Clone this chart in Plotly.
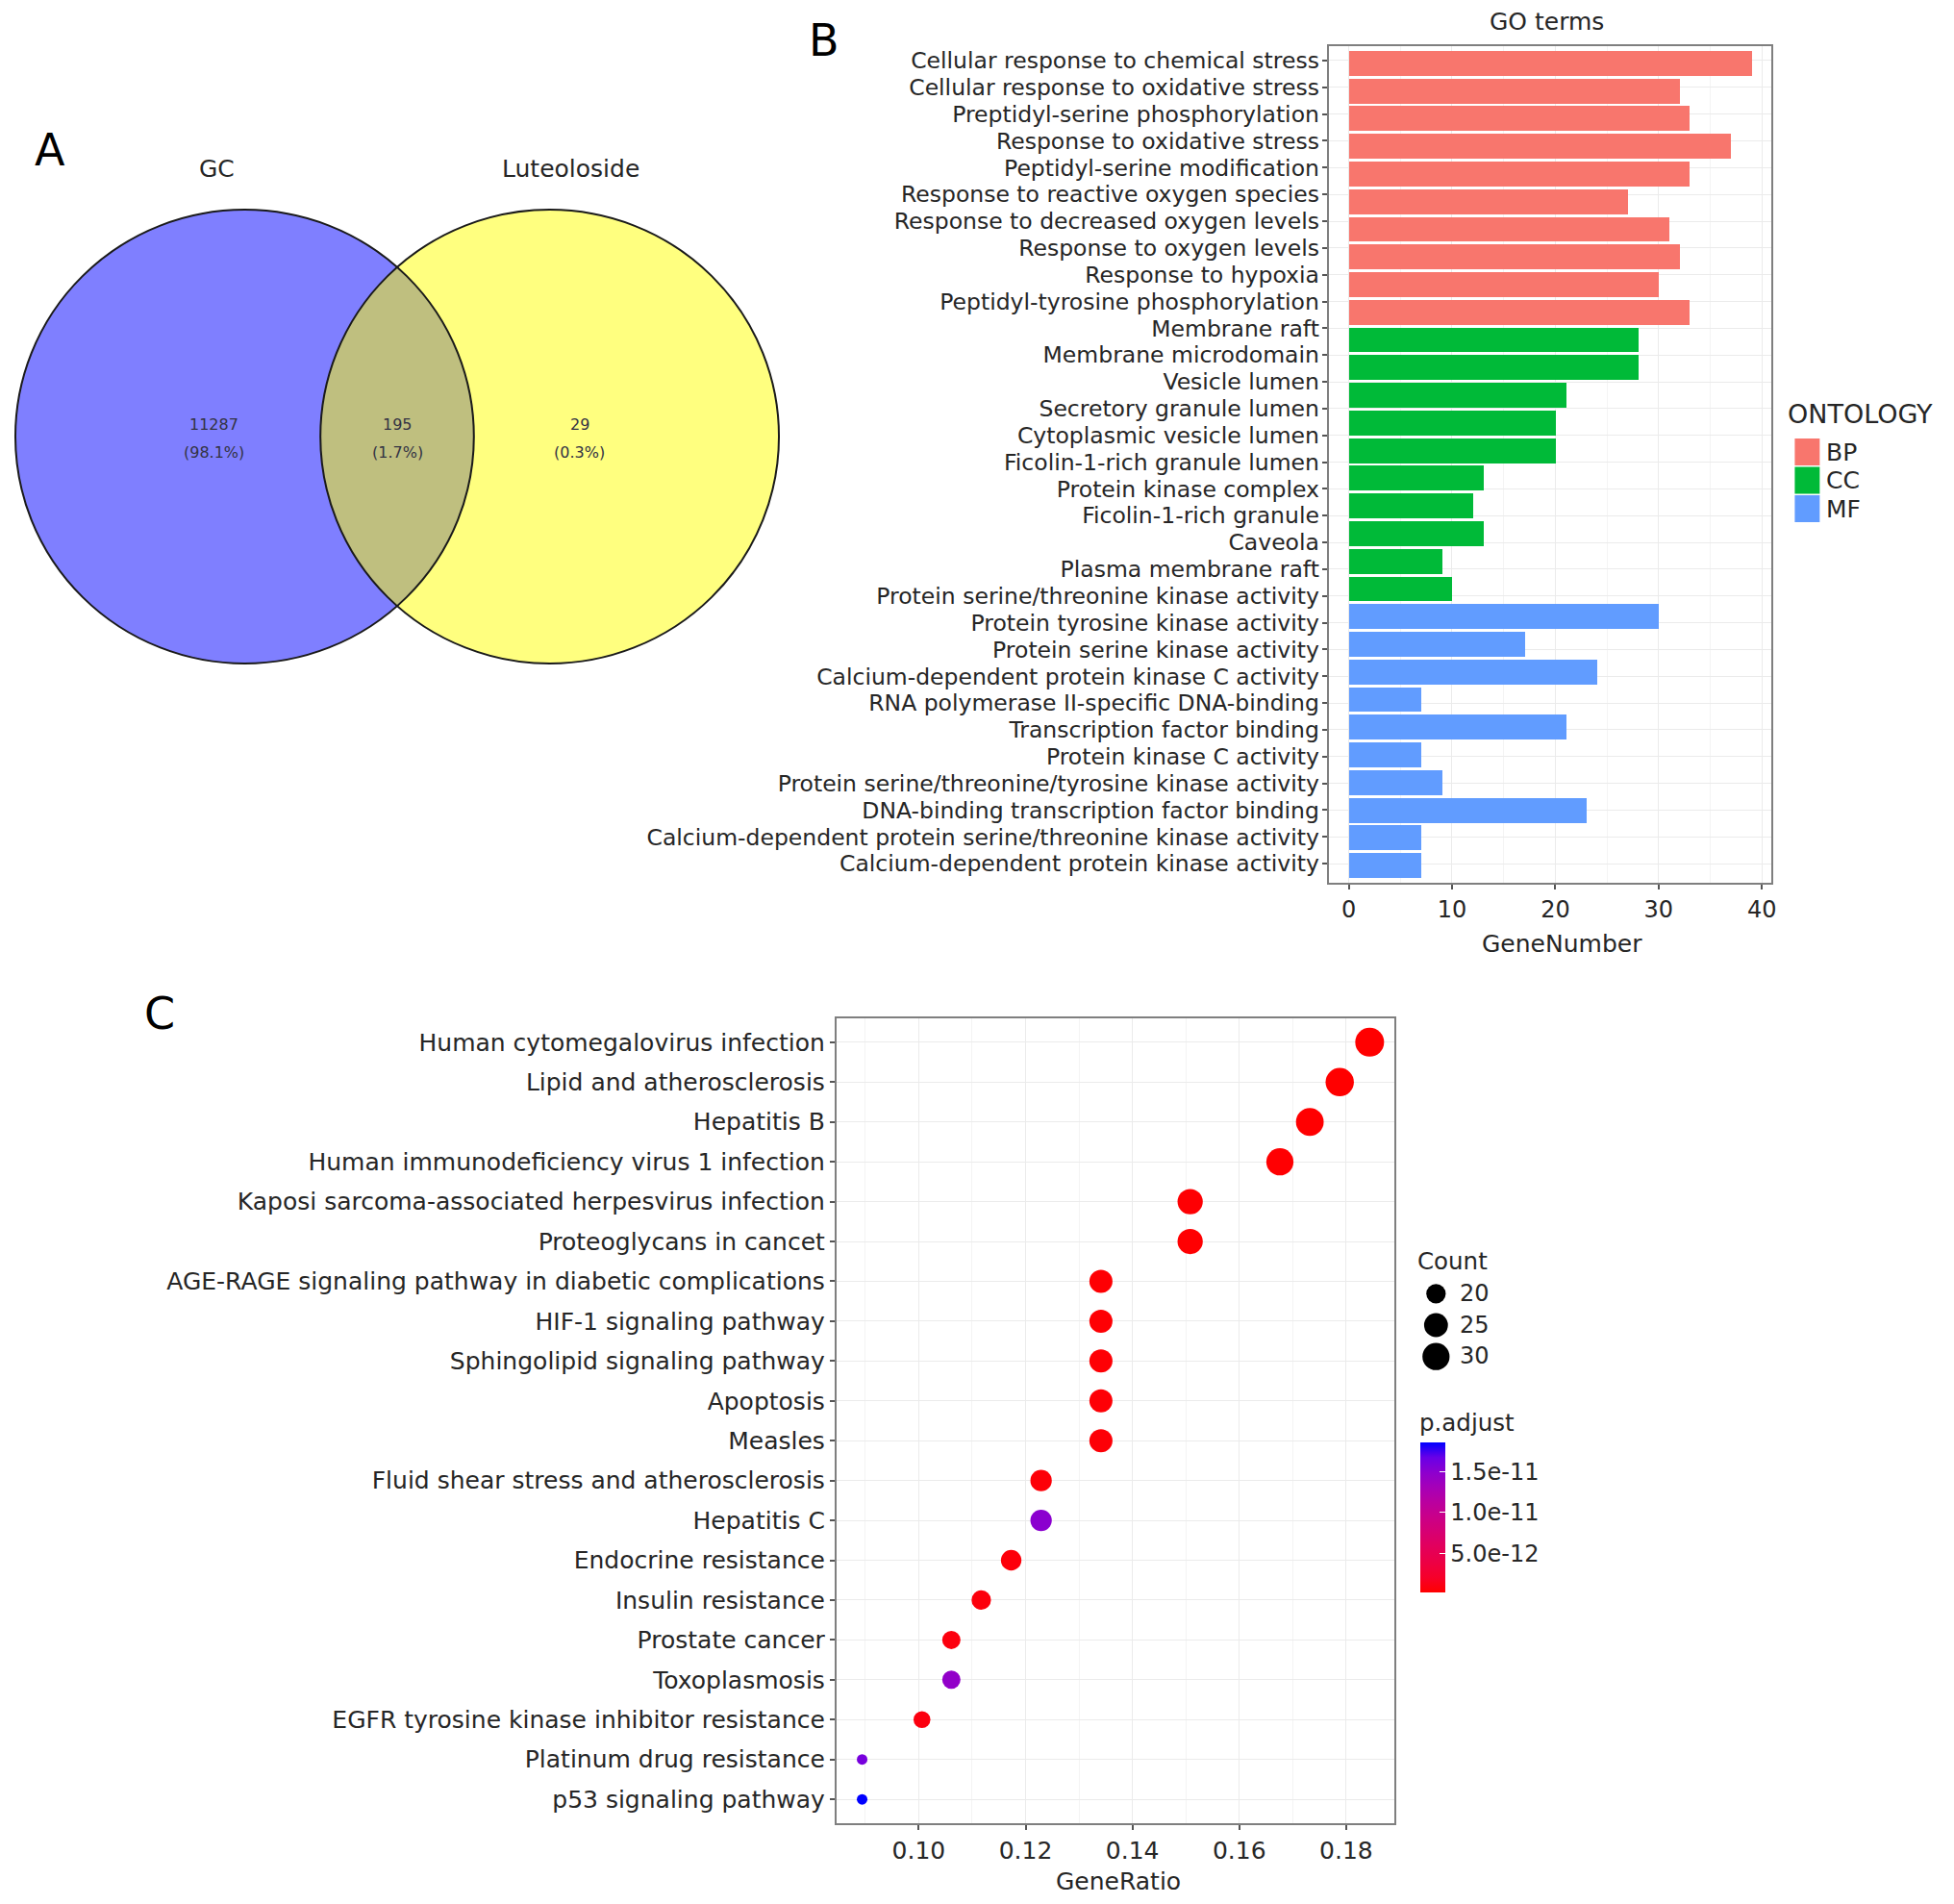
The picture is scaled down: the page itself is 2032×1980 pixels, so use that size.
import numpy as np
import plotly.graph_objects as go

W, H = 2032, 1980
OFF_X, OFF_Y = 4, 8  # the page body margin shifts the figure
FONT = "DejaVu Sans"
TXT = "#262626"

# ---- panel A: Venn counts
venn_sets = ["GC", "Luteoloside"]
venn_counts = ["11287", "195", "29"]
venn_pcts = ["(98.1%)", "(1.7%)", "(0.3%)"]

# ---- panel B: GO terms
go_labels = [
    "Cellular response to chemical stress",
    "Cellular response to oxidative stress",
    "Preptidyl-serine phosphorylation",
    "Response to oxidative stress",
    "Peptidyl-serine modification",
    "Response to reactive oxygen species",
    "Response to decreased oxygen levels",
    "Response to oxygen levels",
    "Response to hypoxia",
    "Peptidyl-tyrosine phosphorylation",
    "Membrane raft",
    "Membrane microdomain",
    "Vesicle lumen",
    "Secretory granule lumen",
    "Cytoplasmic vesicle lumen",
    "Ficolin-1-rich granule lumen",
    "Protein kinase complex",
    "Ficolin-1-rich granule",
    "Caveola",
    "Plasma membrane raft",
    "Protein serine/threonine kinase activity",
    "Protein tyrosine kinase activity",
    "Protein serine kinase activity",
    "Calcium-dependent protein kinase C activity",
    "RNA polymerase II-specific DNA-binding",
    "Transcription factor binding",
    "Protein kinase C activity",
    "Protein serine/threonine/tyrosine kinase activity",
    "DNA-binding transcription factor binding",
    "Calcium-dependent protein serine/threonine kinase activity",
    "Calcium-dependent protein kinase activity",
]
bp_genes = [39, 32, 33, 37, 33, 27, 31, 32, 30, 33]
cc_genes = [28, 28, 21, 20, 20, 13, 12, 13, 9, 10]
mf_genes = [30, 17, 24, 7, 21, 7, 9, 23, 7, 7]
ontology = ["BP", "CC", "MF"]
onto_colors = ["#F8766D", "#00BA38", "#619CFF"]

# ---- panel C: KEGG dot plot
kegg_terms = [
    "Human cytomegalovirus infection",
    "Lipid and atherosclerosis",
    "Hepatitis B",
    "Human immunodeficiency virus 1 infection",
    "Kaposi sarcoma-associated herpesvirus infection",
    "Proteoglycans in cancet",
    "AGE-RAGE signaling pathway in diabetic complications",
    "HIF-1 signaling pathway",
    "Sphingolipid signaling pathway",
    "Apoptosis",
    "Measles",
    "Fluid shear stress and atherosclerosis",
    "Hepatitis C",
    "Endocrine resistance",
    "Insulin resistance",
    "Prostate cancer",
    "Toxoplasmosis",
    "EGFR tyrosine kinase inhibitor resistance",
    "Platinum drug resistance",
    "p53 signaling pathway",
]
gene_ratio = [0.1844, 0.1788, 0.1732, 0.1676, 0.1508, 0.1508, 0.1341, 0.1341,
              0.1341, 0.1341, 0.1341, 0.1229, 0.1229, 0.1173, 0.1117, 0.1061,
              0.1061, 0.1006, 0.0894, 0.0894]
kegg_count = [33, 32, 31, 30, 27, 27, 24, 24, 24, 24, 24, 22, 22, 21, 20, 19,
              19, 18, 16, 16]
p_adjust = [1.8e-13, 2.0e-13, 2.2e-13, 2.5e-13, 3.0e-13, 2.8e-13, 3.2e-13,
            3.5e-13, 4.0e-13, 4.5e-13, 5.0e-13, 5.5e-13, 1.5e-11, 6.0e-13,
            7.0e-13, 8.0e-13, 1.45e-11, 8.5e-13, 1.6e-11, 1.857e-11]
count_legend = [20, 25, 30]
padj_ticks = [5e-12, 1e-11, 1.5e-11]
padj_ticktext = ["5.0e-12", "1.0e-11", "1.5e-11"]


def px(x):
    return (x - OFF_X) / W


def py(y):
    return 1 - (y - OFF_Y) / H


def dot_size(c):
    # ggplot area scale (range 1..6) converted to pixel diameter
    s = 1 + 5 * np.sqrt((np.asarray(c, float) - min(kegg_count)) / (max(kegg_count) - min(kegg_count)))
    return 7.2 + 3.8 * s


def lab_gradient(c1, c2, n=11):
    # red -> blue through Lab space, like ggplot's scale_colour_gradient
    def to_lin(c):
        c = c / 255.0
        return np.where(c > 0.04045, ((c + 0.055) / 1.055) ** 2.4, c / 12.92)

    def to_srgb(c):
        c = np.where(c > 0.0031308, 1.055 * np.clip(c, 0, None) ** (1 / 2.4) - 0.055, 12.92 * c)
        return np.clip(np.round(c * 255), 0, 255).astype(int)

    M = np.array([[0.4124, 0.3576, 0.1805], [0.2126, 0.7152, 0.0722], [0.0193, 0.1192, 0.9505]])
    wp = np.array([0.95047, 1.0, 1.08883])

    def f(t):
        return np.where(t > 0.008856, np.cbrt(t), 7.787 * t + 16 / 116)

    def finv(t):
        return np.where(t > 0.206893, t ** 3, (t - 16 / 116) / 7.787)

    def rgb2lab(c):
        xyz = M @ to_lin(np.array(c, float)) / wp
        fx, fy, fz = f(xyz)
        return np.array([116 * fy - 16, 500 * (fx - fy), 200 * (fy - fz)])

    def lab2rgb(lab):
        L, a, b = lab
        fy = (L + 16) / 116
        xyz = np.array([finv(fy + a / 500), finv(fy), finv(fy - b / 200)]) * wp
        return to_srgb(np.linalg.inv(M) @ xyz)

    l1, l2 = rgb2lab(c1), rgb2lab(c2)
    out = []
    for t in np.linspace(0, 1, n):
        r, g, b = lab2rgb(l1 + (l2 - l1) * t)
        out.append([float(t), f"rgb({r},{g},{b})"])
    return out


def note(text, x, y, size, xanchor="center", color=TXT):
    return dict(text=text, x=px(x), y=py(y), xref="paper", yref="paper",
                xanchor=xanchor, yanchor="middle", showarrow=False,
                font=dict(size=size, color=color, family=FONT))


fig = go.Figure()

# ---------------- panel B bars
y_bar = np.arange(len(bp_genes) + len(cc_genes) + len(mf_genes))
start = 0
for name, vals, col in zip(ontology, [bp_genes, cc_genes, mf_genes], onto_colors):
    fig.add_trace(go.Bar(
        x=vals, y=y_bar[start:start + len(vals)], orientation="h", width=0.9,
        marker=dict(color=col, line=dict(width=0)), name=name, showlegend=False,
        xaxis="x", yaxis="y"))
    start += len(vals)

# labels in the figure are spread over the bar range (31 labels for 30 bars)
label_pos = np.linspace(-0.1, 28.93, len(go_labels))

# ---------------- panel C dots
fig.add_trace(go.Scatter(
    x=gene_ratio, y=np.arange(len(kegg_terms)), mode="markers",
    marker=dict(size=dot_size(kegg_count), color=p_adjust, opacity=1,
                colorscale=lab_gradient([255, 0, 0], [0, 0, 255]),
                cmin=min(p_adjust), cmax=max(p_adjust), line=dict(width=0),
                colorbar=dict(x=px(1477), xanchor="left", y=py(1500), yanchor="top",
                              len=156, lenmode="pixels", thickness=26,
                              outlinewidth=0, xpad=0, ypad=0,
                              tickvals=padj_ticks, ticktext=padj_ticktext,
                              ticks="inside", ticklen=6, tickcolor="white",
                              tickfont=dict(size=24, color=TXT, family=FONT))),
    showlegend=False, xaxis="x2", yaxis="y2"))

# Count size legend
fig.add_trace(go.Scatter(
    x=[0] * len(count_legend), y=np.arange(len(count_legend)), mode="markers",
    marker=dict(size=dot_size(count_legend), color="black", opacity=1, line=dict(width=0)),
    showlegend=False, hoverinfo="skip", xaxis="x3", yaxis="y3"))

axis_common = dict(showline=True, mirror=True, linecolor="#7F7F7F", linewidth=2,
                   ticks="outside", ticklen=5, tickcolor="#555555", tickwidth=1.5,
                   gridcolor="#EBEBEB", gridwidth=1.2, zeroline=False,
                   tickfont=dict(size=24, color=TXT, family=FONT))

fig.update_layout(
    width=W, height=H, margin=dict(l=0, r=0, t=0, b=0),
    paper_bgcolor="white", plot_bgcolor="white",
    font=dict(family=FONT, color=TXT),
    bargap=0,
    xaxis=dict(axis_common, domain=[px(1381), px(1843)], range=[-1.95, 40.95],
               tick0=0, dtick=10,
               minor=dict(dtick=5, showgrid=True, gridcolor="#F4F4F4", gridwidth=1)),
    yaxis=dict(axis_common, domain=[py(918), py(48)], range=[29.62, -0.62],
               tickvals=label_pos, ticktext=go_labels, ticklabelstandoff=-2,
               tickfont=dict(size=23.5, color=TXT, family=FONT)),
    xaxis2=dict(axis_common, domain=[px(868), px(1450)], range=[0.0846, 0.1891],
                tick0=0.10, dtick=0.02, tickformat=".2f",
                tickfont=dict(size=25, color=TXT, family=FONT),
                minor=dict(dtick=0.01, showgrid=True, gridcolor="#F4F4F4", gridwidth=1),
                anchor="y2"),
    yaxis2=dict(axis_common, domain=[py(1896), py(1059)], range=[19.6, -0.6],
                tickvals=list(range(len(kegg_terms))), ticktext=kegg_terms,
                tickfont=dict(size=25, color=TXT, family=FONT), anchor="x2"),
    xaxis3=dict(domain=[px(1478), px(1508)], range=[-1, 1], visible=False, anchor="y3"),
    yaxis3=dict(domain=[py(1427), py(1329)], range=[2.5, -0.5], visible=False, anchor="x3"),
)

shapes = []
annotations = []

# ---------------- panel A Venn
venn_cx = [251, 569]
venn_cy = 454
venn_rx, venn_ry = 239, 236
venn_fill = ["#0000FF", "#FFFF00"]
for cx, col in zip(venn_cx, venn_fill):
    shapes.append(dict(type="circle", xref="paper", yref="paper",
                       x0=px(cx - venn_rx), x1=px(cx + venn_rx),
                       y0=py(venn_cy + venn_ry), y1=py(venn_cy - venn_ry),
                       fillcolor=col, opacity=0.5, line=dict(width=0), layer="below"))
for cx in venn_cx:
    shapes.append(dict(type="circle", xref="paper", yref="paper",
                       x0=px(cx - venn_rx), x1=px(cx + venn_rx),
                       y0=py(venn_cy + venn_ry), y1=py(venn_cy - venn_ry),
                       line=dict(color="#1A1A1A", width=2)))

for name, x in zip(venn_sets, [222, 591]):
    annotations.append(note(name, x, 176, 25))
for cnt, pct, x in zip(venn_counts, venn_pcts, [219, 410, 600]):
    annotations.append(note(cnt, x, 442, 16, color="#333344"))
    annotations.append(note(pct, x, 470, 16, color="#333344"))

# panel letters
for letter, x, y in [("A", 48, 156), ("B", 855, 42), ("C", 162, 1054)]:
    annotations.append(note(letter, x, y, 46, color="black"))

# ---------------- panel B titles and legend
annotations.append(note("GO terms", 1608, 23, 25))
annotations.append(note("GeneNumber", 1624, 982, 25))
annotations.append(note("ONTOLOGY", 1858, 430, 27, xanchor="left"))
for i, (name, col) in enumerate(zip(ontology, onto_colors)):
    top = 456 + i * 29.5
    shapes.append(dict(type="rect", xref="paper", yref="paper",
                       x0=px(1867), x1=px(1893), y0=py(top + 28), y1=py(top),
                       fillcolor=col, line=dict(width=0)))
    annotations.append(note(name, 1898, top + 14, 25, xanchor="left"))

# ---------------- panel C titles and legends
annotations.append(note("GeneRatio", 1162, 1956, 25))
annotations.append(note("Count", 1472, 1311, 24.5, xanchor="left"))
for i, c in enumerate(count_legend):
    annotations.append(note(str(c), 1516, 1345 + i * 32.7, 24, xanchor="left"))
annotations.append(note("p.adjust", 1474, 1479, 24.5, xanchor="left"))

fig.update_layout(shapes=shapes, annotations=annotations)

fig.write_html("out.html")
